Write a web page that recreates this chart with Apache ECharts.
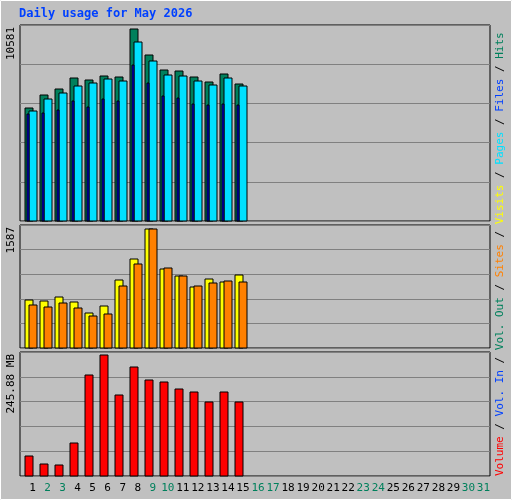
<!DOCTYPE html><html><head><meta charset="utf-8">
<script src="https://cdn.jsdelivr.net/npm/echarts@6/dist/echarts.min.js"></script>
<style>html,body{margin:0;padding:0;background:#c0c0c0}#c{width:512px;height:500px}</style></head><body><div id="c"></div>
<script>
const days = Array.from({length:31},(_,i)=>String(i+1));
const weekendDays = ['2','3','9','10','16','17','23','24','30','31'];
const hits  = [6227,6944,7274,7881,7771,7991,7936,10581,9148,8322,8266,7936,7660,8101,7550];
const files = [6062,6723,7054,7440,7605,7825,7715,9865,8818,8046,7991,7715,7495,7881,7440];
const pages = [5897,5952,6117,6613,6283,6723,6613,8597,7605,6889,6779,6448,6393,6448,6393];
const visits= [644,631,684,618,472,565,909,1187,1587,1054,962,816,922,882,975];
const sites = [578,552,605,538,433,459,830,1121,1584,1068,962,830,869,896,882];
const volumeMB = [40.5,24.0,22.0,67.2,204.8,245.88,163.7,221.2,194.5,190.4,176.0,169.9,149.3,169.9,149.3];
const yLabels = ['10581','1587','245.88 MB'];
const FONT = 'DejaVu Sans Mono';

function barSeries(data, gridIdx, color, x0, x1, z){
  return {type:'custom', xAxisIndex:gridIdx, yAxisIndex:gridIdx, z:z,
    data:data.map((v,i)=>[i,v]),
    renderItem:(params,api)=>{
      const top=api.coord([api.value(0),api.value(1)]);
      const bot=api.coord([api.value(0),0]);
      return {type:'rect',shape:{x:Math.round(top[0])+x0,y:Math.round(top[1]),width:x1-x0,height:Math.round(bot[1]-top[1])},
        style:{fill:color,stroke:'#000',lineWidth:1}};
    }};
}
const panels=[{top:25,height:196},{top:225,height:123},{top:352,height:124}];
const maxes=[10801,1640,251];
const dataGrids=panels.map(g=>({left:25,right:21,top:g.top,height:g.height}));
const frameGrids=panels.map(g=>({left:20,right:22,top:g.top,height:g.height,show:true,backgroundColor:'#c0c0c0',borderColor:'#000',borderWidth:1,z:0}));
const chart=echarts.init(document.getElementById('c'),null,{renderer:'canvas'});
chart.setOption({
  backgroundColor:'#c0c0c0', animation:false,
  grid:dataGrids.concat(frameGrids),
  xAxis:panels.map((g,i)=>({type:'category',gridIndex:i,data:days,boundaryGap:true,
    axisLine:{show:false},axisTick:{show:false},splitLine:{show:false},
    axisLabel:i===2?{show:true,interval:0,fontFamily:FONT,fontSize:11,margin:7,
      color:(v)=>weekendDays.includes(v)?'#00805c':'#000'}:{show:false}}))
    .concat(panels.map((g,i)=>({type:'category',gridIndex:3+i,data:days,show:false}))),
  yAxis:panels.map((g,i)=>({type:'value',gridIndex:i,min:0,max:maxes[i],interval:maxes[i]/5,
    axisLabel:{show:false},axisLine:{show:false},axisTick:{show:false},splitLine:{show:false}}))
    .concat(panels.map((g,i)=>({type:'value',gridIndex:3+i,min:0,max:maxes[i],interval:maxes[i]/5,
    axisLabel:{show:false},axisLine:{show:false},axisTick:{show:false},
    splitLine:{show:true,lineStyle:{color:'#808080',width:1}}}))),
  series:[
    barSeries(hits,0,'#00805c',-8,0,1),
    barSeries(pages,0,'#0000ff',-6,-4,3),
    barSeries(files,0,'#00e0ff',-4,4,2),
    barSeries(visits,1,'#ffff00',-8,0,1),
    barSeries(sites,1,'#ff8000',-4,4,2),
    barSeries(volumeMB,2,'#ff0000',-8,0,1)
  ],
  graphic:[
    {type:'rect',shape:{x:0.5,y:0.5,width:511,height:499},style:{fill:'none',stroke:'#fff',lineWidth:1},silent:true},
    {type:'text',left:19,top:8,style:{text:'Daily usage for May 2026',fill:'#0040ff',font:'bold 12px '+FONT}},
    {type:'text',x:11,y:27,rotation:Math.PI/2,style:{text:yLabels[0],fill:'#000',font:'11px '+FONT,align:'right',verticalAlign:'middle'}},
    {type:'text',x:11,y:227,rotation:Math.PI/2,style:{text:yLabels[1],fill:'#000',font:'11px '+FONT,align:'right',verticalAlign:'middle'}},
    {type:'text',x:11,y:354,rotation:Math.PI/2,style:{text:yLabels[2],fill:'#000',font:'11px '+FONT,align:'right',verticalAlign:'middle'}},
    {type:'text',x:500,y:476,rotation:Math.PI/2,style:{
      text:'{r|Volume}{k| / }{b|Vol. In}{k| / }{g|Vol. Out}{k| / }{o|Sites}{k| / }{y|Visits}{k| / }{c|Pages}{k| / }{b|Files}{k| / }{g|Hits}',
      align:'left',verticalAlign:'middle',font:'11px '+FONT,
      rich:{r:{fill:'#ff0000',font:'11px '+FONT},b:{fill:'#0040ff',font:'11px '+FONT},g:{fill:'#00805c',font:'11px '+FONT},
        o:{fill:'#ff8000',font:'11px '+FONT},y:{fill:'#ffff00',font:'11px '+FONT},c:{fill:'#00e0ff',font:'11px '+FONT},k:{fill:'#000',font:'11px '+FONT}}}}
  ]
});
</script></body></html>
